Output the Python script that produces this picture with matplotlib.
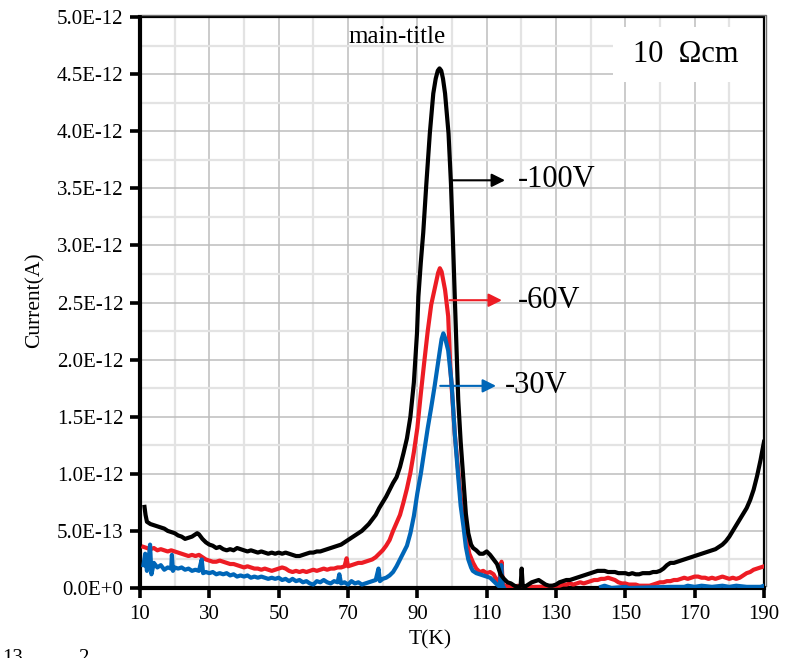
import matplotlib
matplotlib.use("Agg")
import matplotlib.pyplot as plt
import numpy as np
from matplotlib.patches import Rectangle
import matplotlib.transforms as mtransforms

plt.rcParams['font.family'] = ['Liberation Serif', 'DejaVu Serif']

# ---------------- data (current in units of 1e-12 A) ----------------
T_100 = [11.3, 11.6, 12, 13, 14, 15, 16, 17, 18, 19, 20, 21, 22, 23, 24, 25, 26, 26.5, 27, 28,
         29, 30, 31, 32, 33, 34, 35, 36, 37, 38, 39, 40, 41, 42, 43, 44, 45, 46, 47, 48,
         49, 50, 51, 52, 53, 54, 55, 56, 57, 58, 59, 60, 61, 62, 63, 64, 65, 66, 67, 68,
         69, 70, 71, 72, 73, 74, 75, 76, 77, 78, 79, 80, 81, 82, 83, 84, 85, 86, 87, 88,
         89, 89.9, 90.3, 91, 91.7, 92.6, 93.6, 94.6, 95.3, 95.9, 96.4, 96.9, 97.4, 98, 99, 99.7, 100.2, 100.8,
         101.8, 102.5, 103.3, 104, 104.7, 105.5, 106.1, 107, 108, 109, 110, 111, 112, 113, 114, 115,
         116, 117, 118, 119, 119.8, 120.1, 120.4, 121, 122, 123, 124, 125, 126, 127, 128, 129,
         130, 131, 132, 133, 134, 135, 136, 137, 138, 139, 140, 141, 142, 143, 144, 145,
         146, 147, 148, 149, 150, 151, 152, 153, 154, 155, 156, 157, 158, 159, 160, 161,
         162, 163, 164, 165, 166, 167, 168, 169, 170, 171, 172, 173, 174, 175, 176, 177,
         178, 179, 180, 181, 182, 183, 184, 185, 186, 187, 188, 189, 190]
I_100 = [0.71, 0.64, 0.58, 0.56, 0.55, 0.54, 0.53, 0.52, 0.50, 0.49, 0.48, 0.46, 0.45, 0.43, 0.44, 0.45, 0.47, 0.48, 0.47, 0.43,
         0.40, 0.38, 0.37, 0.35, 0.36, 0.34, 0.33, 0.34, 0.33, 0.35, 0.34, 0.33, 0.32, 0.33, 0.32, 0.31, 0.32, 0.31, 0.30, 0.31,
         0.30, 0.31, 0.30, 0.31, 0.30, 0.29, 0.28, 0.28, 0.29, 0.30, 0.31, 0.31, 0.32, 0.32, 0.33, 0.34, 0.35, 0.36, 0.37, 0.38,
         0.40, 0.42, 0.44, 0.46, 0.48, 0.50, 0.53, 0.56, 0.60, 0.64, 0.70, 0.75, 0.80, 0.86, 0.92, 0.97, 1.06, 1.18, 1.31, 1.50,
         1.80, 2.23, 2.55, 2.85, 3.11, 3.54, 3.98, 4.33, 4.46, 4.53, 4.55, 4.53, 4.46, 4.33, 3.98, 3.54, 3.11, 2.55,
         1.65, 1.28, 0.95, 0.65, 0.48, 0.38, 0.35, 0.33, 0.30, 0.30, 0.32, 0.29, 0.25, 0.21, 0.12, 0.08,
         0.05, 0.04, 0.02, 0.01, 0.02, 0.17, 0.02, 0.01, 0.03, 0.05, 0.06, 0.07, 0.05, 0.03, 0.02, 0.02,
         0.03, 0.05, 0.06, 0.07, 0.07, 0.08, 0.09, 0.10, 0.11, 0.12, 0.13, 0.14, 0.15, 0.15, 0.15, 0.14,
         0.14, 0.14, 0.13, 0.13, 0.13, 0.12, 0.13, 0.12, 0.12, 0.13, 0.13, 0.13, 0.14, 0.14, 0.15, 0.17,
         0.20, 0.22, 0.22, 0.23, 0.24, 0.25, 0.26, 0.27, 0.28, 0.29, 0.30, 0.31, 0.32, 0.33, 0.34, 0.36,
         0.38, 0.41, 0.45, 0.50, 0.55, 0.60, 0.65, 0.70, 0.77, 0.86, 0.98, 1.12, 1.28]

T_60 = [11, 12, 13, 14, 15, 16, 17, 18, 19, 20, 21, 22, 23, 24, 25, 26, 27, 28, 29, 30,
        31, 32, 33, 34, 35, 36, 37, 38, 39, 40, 41, 42, 43, 44, 45, 46, 47, 48, 49, 50,
        51, 52, 53, 54, 55, 56, 57, 58, 59, 60, 61, 62, 63, 64, 65, 66, 67, 68, 69, 69.6,
        70, 71, 72, 73, 74, 75, 76, 77, 78, 79, 80, 81, 82, 83, 84, 85, 86, 87, 88, 89,
        90, 91, 92, 93, 94, 95, 96, 96.5, 97, 98, 98.9, 99.5, 100.8, 102.3, 103, 104.2, 105, 106.1, 107, 108,
        109, 110, 111, 112, 113, 113.5, 114, 114.3, 114.6, 115, 118, 119, 120, 125, 130, 131, 132, 133, 134, 135,
        136, 137, 138, 139, 140, 141, 142, 143, 144, 145, 146, 147, 148, 149, 150, 151, 152, 153, 154, 155,
        156, 157, 158, 159, 160, 161, 162, 163, 164, 165, 166, 167, 168, 169, 170, 171, 172, 173, 174, 175,
        176, 177, 178, 179, 180, 181, 182, 183, 184, 185, 186, 187, 188, 189, 190]
I_60 = [0.36, 0.35, 0.34, 0.35, 0.33, 0.34, 0.33, 0.32, 0.33, 0.32, 0.31, 0.30, 0.29, 0.28, 0.29, 0.28, 0.29, 0.27, 0.25, 0.24,
        0.23, 0.23, 0.24, 0.23, 0.22, 0.21, 0.21, 0.20, 0.19, 0.18, 0.19, 0.18, 0.17, 0.17, 0.16, 0.17, 0.16, 0.15, 0.16, 0.17,
        0.18, 0.17, 0.15, 0.14, 0.15, 0.14, 0.15, 0.14, 0.15, 0.16, 0.15, 0.16, 0.17, 0.16, 0.17, 0.17, 0.18, 0.18, 0.19, 0.26,
        0.19, 0.20, 0.21, 0.22, 0.22, 0.23, 0.24, 0.25, 0.27, 0.30, 0.33, 0.37, 0.42, 0.50, 0.57, 0.64, 0.75, 0.87, 1.01, 1.19,
        1.40, 1.70, 1.98, 2.25, 2.48, 2.62, 2.76, 2.80, 2.77, 2.61, 2.38, 1.94, 1.35, 0.86, 0.65, 0.42, 0.30, 0.22, 0.17, 0.14,
        0.15, 0.13, 0.14, 0.12, 0.06, 0.02, 0.15, 0.23, 0.05, 0.02, 0.01, 0.02, 0.01, 0.01, 0.02, 0.02, 0.03, 0.03, 0.04, 0.03,
        0.04, 0.05, 0.04, 0.05, 0.06, 0.07, 0.07, 0.08, 0.08, 0.09, 0.08, 0.07, 0.05, 0.04, 0.04, 0.03, 0.03, 0.03, 0.02, 0.02,
        0.02, 0.02, 0.03, 0.04, 0.05, 0.05, 0.06, 0.06, 0.07, 0.07, 0.08, 0.09, 0.08, 0.09, 0.10, 0.10, 0.09, 0.09, 0.08, 0.09,
        0.08, 0.09, 0.10, 0.09, 0.08, 0.09, 0.08, 0.09, 0.11, 0.13, 0.14, 0.16, 0.17, 0.18, 0.19]

T_30 = [11, 11.5, 12, 12.5, 12.9, 13.3, 14, 15, 16, 17, 18, 19, 19.2, 19.5, 20, 21, 22, 23, 24, 25,
        26, 27, 27.8, 28.2, 29, 30, 31, 32, 33, 34, 35, 36, 37, 38, 39, 40, 41, 42, 43, 44,
        45, 46, 47, 48, 49, 50, 51, 52, 53, 54, 55, 56, 57, 58, 59, 60, 61, 62, 63, 64,
        65, 66, 67, 67.5, 68, 69, 70, 71, 72, 73, 74, 75, 76, 77, 78, 78.8, 79.2, 80, 81, 82,
        83, 84, 85, 86, 87, 88, 89, 90, 91, 92, 93, 94, 95, 96, 96.5, 97, 97.5, 98, 98.9, 99.9,
        100.8, 101.8, 102.5, 103.3, 104, 104.7, 105.5, 106, 107, 108, 109, 110, 111, 112, 113, 113.8, 114.2, 114.6, 115, 116,
        143, 144, 145, 146, 150, 151, 163, 167, 168, 170, 172, 175, 178, 180, 182, 185, 189, 190]
I_30 = [0.20, 0.30, 0.15, 0.25, 0.38, 0.12, 0.22, 0.18, 0.20, 0.16, 0.18, 0.17, 0.29, 0.15, 0.18, 0.17, 0.18, 0.16, 0.17, 0.15,
        0.16, 0.15, 0.25, 0.13, 0.14, 0.13, 0.14, 0.12, 0.13, 0.12, 0.13, 0.11, 0.12, 0.10, 0.11, 0.10, 0.11, 0.09, 0.10, 0.09,
        0.10, 0.09, 0.08, 0.09, 0.08, 0.09, 0.07, 0.08, 0.06, 0.08, 0.06, 0.07, 0.05, 0.06, 0.04, 0.03, 0.06, 0.05, 0.07, 0.05,
        0.04, 0.06, 0.05, 0.12, 0.04, 0.05, 0.03, 0.06, 0.04, 0.05, 0.03, 0.04, 0.05, 0.06, 0.07, 0.17, 0.06, 0.08, 0.09, 0.11,
        0.14, 0.19, 0.25, 0.31, 0.37, 0.48, 0.63, 0.83, 1.00, 1.20, 1.40, 1.58, 1.77, 1.98, 2.08, 2.18, 2.23, 2.19, 2.08, 1.79,
        1.35, 0.97, 0.72, 0.54, 0.36, 0.25, 0.18, 0.15, 0.13, 0.12, 0.11, 0.10, 0.09, 0.06, 0.03, 0.01, 0.20, 0.02, 0.00, np.nan,
        0.01, 0.02, 0.01, 0.00, 0.01, 0.00, 0.01, 0.01, 0.02, 0.01, 0.02, 0.01, 0.02, 0.01, 0.02, 0.01, 0.01, 0.02]

x_ticks = [10, 30, 50, 70, 90, 110, 130, 150, 170, 190]
y_ticks = [0.0, 0.5, 1.0, 1.5, 2.0, 2.5, 3.0, 3.5, 4.0, 4.5, 5.0]
y_tick_labels = ['0.0E+0', '5.0E-13', '1.0E-12', '1.5E-12', '2.0E-12', '2.5E-12',
                 '3.0E-12', '3.5E-12', '4.0E-12', '4.5E-12', '5.0E-12']
series_labels = ['-100V', '-60V', '-30V']
series_colors = ['#000000', '#ED1C24', '#0066B8']

SCALE = 1e-12

# ---------------- figure ----------------
fig = plt.figure(figsize=(7.92, 6.58), dpi=100)
ax = fig.add_axes([140/792, 1-588/658, 624/792, 571/658])

ax.set_xlim(10, 190)
ax.set_ylim(0, 5.0*SCALE)

ax.set_xticks(x_ticks)
ax.set_xticks(np.arange(20, 190, 20), minor=True)
ax.set_yticks([v*SCALE for v in y_ticks])
ax.set_yticklabels(y_tick_labels)
ax.set_yticks(np.arange(0.25, 5.0, 0.5)*SCALE, minor=True)

ax.grid(which='major', color='#bdbdbd', lw=1.1, zorder=0)
ax.grid(which='minor', color='#e3e3e3', lw=1.6, zorder=0)
ax.set_axisbelow(True)

ax.tick_params(which='major', direction='out', length=7, width=2.6, labelsize=15, color='black', pad=5)
ax.tick_params(which='minor', length=0)

for s in ['left', 'bottom']:
    ax.spines[s].set_linewidth(3.0)
for s in ['top', 'right']:
    ax.spines[s].set_linewidth(1.6)

# outer gray double-line on top / right
off = mtransforms.offset_copy(ax.transAxes, fig=fig, x=2.2, y=2.2, units='dots')
ax.plot([0, 1, 1], [1, 1, 0], transform=off, color='#707070', lw=1.0, clip_on=False, zorder=5)

# curves
LW = 3.0
ax.plot(T_60, np.array(I_60)*SCALE, color=series_colors[1], lw=LW, zorder=3)
ax.plot(T_30, np.array(I_30)*SCALE, color=series_colors[2], lw=LW, zorder=3)
ax.plot(T_100, np.array(I_100)*SCALE, color=series_colors[0], lw=LW, zorder=4)

# arrows + labels
arrow_specs = [  # (start_x, tip_x, y, text_x, text_baseline)
    (99.8, 115.3, 3.57, 119.0, 3.51),
    (99.3, 114.4, 2.52, 119.0, 2.45),
    (96.6, 112.7, 1.77, 115.3, 1.71),
]
for (x0, x1, y, tx, ty), lab, col in zip(arrow_specs, series_labels, series_colors):
    ax.annotate('', xy=(x1, y*SCALE), xytext=(x0, y*SCALE),
                arrowprops=dict(arrowstyle='-|>', color=col, lw=1.5,
                                mutation_scale=20, shrinkA=0, shrinkB=0), zorder=6)
    ax.text(tx, ty*SCALE, lab, fontsize=22, ha='left', va='baseline', color='black', zorder=6)

# main title inside the plot
ax.text(84.3, 4.775*SCALE, 'main-title', fontsize=18, ha='center', va='baseline', zorder=6)

# white box with resistivity
ax.add_patch(Rectangle((146.3, 4.43*SCALE), 190-146.3, (4.91-4.43)*SCALE,
                       facecolor='white', edgecolor='none', zorder=2))
ax.text(167.5, 4.61*SCALE, '10  Ωcm', fontsize=22, ha='center', va='baseline', zorder=6)

# axis labels
fig.text(35/792, 1-300/658, 'Current(A)', rotation=90, fontsize=15.5, ha='center', va='center')
fig.text(430/792, 1-640/658, 'T(K)', fontsize=15.5, ha='center', va='center')

# clipped fragments at the bottom edge (as in the reference)
fig.text(2/792, 1-649/658, '13', fontsize=15, ha='left', va='top')
fig.text(78/792, 1-649/658, '2', fontsize=15, ha='left', va='top')

fig.savefig('out.png', dpi=100)
